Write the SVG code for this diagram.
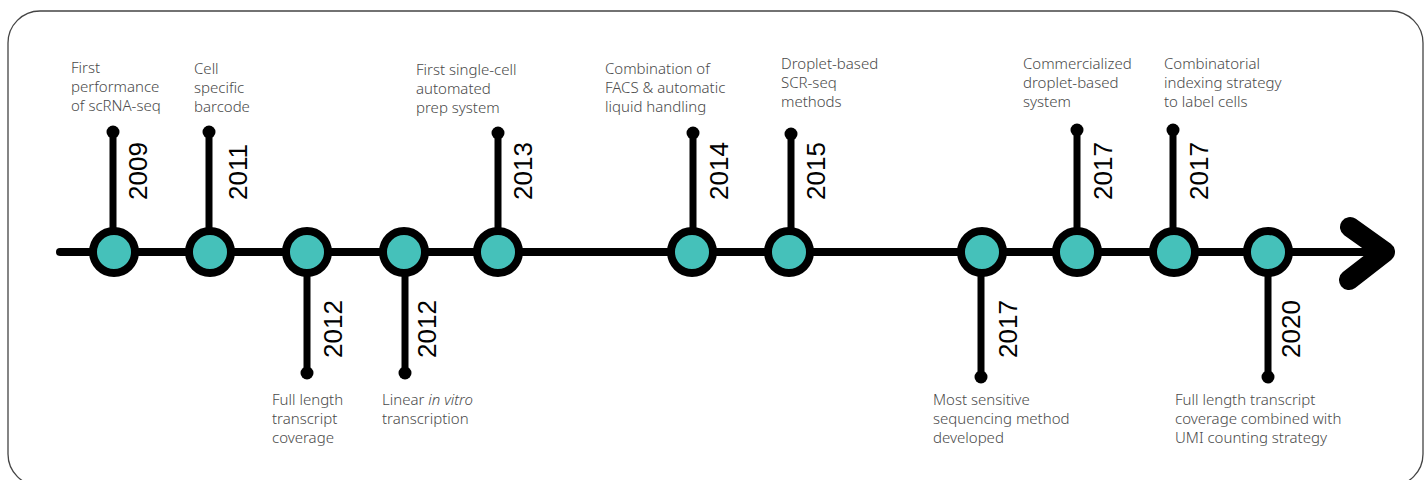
<svg xmlns="http://www.w3.org/2000/svg" width="1428" height="480" viewBox="0 0 1428 480">
<style>
.frame{fill:#fff;stroke:#444;stroke-width:1.3}
.axis{stroke:#000;stroke-width:8;stroke-linecap:round;fill:none}
.chev{stroke:#000;stroke-width:20;stroke-linecap:round;stroke-linejoin:round;fill:none}
.stem{stroke:#000;stroke-width:7}
.dot{fill:#000}
.node{fill:#45C1BA;stroke:#000;stroke-width:8}
.year{font-family:"Liberation Sans",Arial,sans-serif;font-size:26px;fill:#000}
.desc{font-family:"Noto Sans","Open Sans",sans-serif;font-size:15px;font-weight:300;fill:#4a4a4a}
</style>
<rect class="frame" x="8" y="11" width="1415" height="475" rx="32" ry="32"/>
<g id="connectors">
<line class="axis" x1="60" y1="252" x2="1380" y2="252"/>
<polyline class="chev" points="1350,227 1385,252 1349,280"/>
<line class="stem" x1="113" y1="132" x2="113" y2="252"/><circle class="dot" cx="113" cy="132" r="6.5"/>
<line class="stem" x1="209" y1="132" x2="209" y2="252"/><circle class="dot" cx="209" cy="132" r="6.5"/>
<line class="stem" x1="307" y1="252" x2="307" y2="373"/><circle class="dot" cx="307" cy="373" r="6.5"/>
<line class="stem" x1="405" y1="252" x2="405" y2="373"/><circle class="dot" cx="405" cy="373" r="6.5"/>
<line class="stem" x1="498" y1="133" x2="498" y2="252"/><circle class="dot" cx="498" cy="133" r="6.5"/>
<line class="stem" x1="693" y1="133" x2="693" y2="252"/><circle class="dot" cx="693" cy="133" r="6.5"/>
<line class="stem" x1="791" y1="134" x2="791" y2="252"/><circle class="dot" cx="791" cy="134" r="6.5"/>
<line class="stem" x1="981" y1="252" x2="981" y2="377"/><circle class="dot" cx="981" cy="377" r="6.5"/>
<line class="stem" x1="1077" y1="130" x2="1077" y2="252"/><circle class="dot" cx="1077" cy="130" r="6.5"/>
<line class="stem" x1="1173" y1="130" x2="1173" y2="252"/><circle class="dot" cx="1173" cy="130" r="6.5"/>
<line class="stem" x1="1268" y1="252" x2="1268" y2="377"/><circle class="dot" cx="1268" cy="377" r="6.5"/>
</g>
<g id="n2009">
<circle class="node" cx="114" cy="252" r="21"/>
<text class="year" transform="translate(147,200) rotate(-90)">2009</text>
<text class="desc"><tspan x="71" y="73">First</tspan><tspan x="71" y="92">performance</tspan><tspan x="71" y="111">of scRNA-seq</tspan></text>
</g>
<g id="n2011">
<circle class="node" cx="210" cy="252" r="21"/>
<text class="year" transform="translate(247,200) rotate(-90)">2011</text>
<text class="desc"><tspan x="194" y="74">Cell</tspan><tspan x="194" y="93">specific</tspan><tspan x="194" y="112">barcode</tspan></text>
</g>
<g id="n2012a">
<circle class="node" cx="307" cy="252" r="21"/>
<text class="year" transform="translate(342,358) rotate(-90)">2012</text>
<text class="desc"><tspan x="272" y="405">Full length</tspan><tspan x="272" y="424">transcript</tspan><tspan x="272" y="443">coverage</tspan></text>
</g>
<g id="n2012b">
<circle class="node" cx="404" cy="252" r="21"/>
<text class="year" transform="translate(436,358) rotate(-90)">2012</text>
<text class="desc"><tspan x="382" y="405">Linear <tspan font-style="italic">in vitro</tspan></tspan><tspan x="382" y="424">transcription</tspan></text>
</g>
<g id="n2013">
<circle class="node" cx="498" cy="252" r="21"/>
<text class="year" transform="translate(532,200) rotate(-90)">2013</text>
<text class="desc"><tspan x="416" y="75">First single-cell</tspan><tspan x="416" y="94">automated</tspan><tspan x="416" y="113">prep system</tspan></text>
</g>
<g id="n2014">
<circle class="node" cx="692" cy="252" r="21"/>
<text class="year" transform="translate(728,200) rotate(-90)">2014</text>
<text class="desc"><tspan x="605" y="74">Combination of</tspan><tspan x="605" y="93">FACS &amp; automatic</tspan><tspan x="605" y="112">liquid handling</tspan></text>
</g>
<g id="n2015">
<circle class="node" cx="789" cy="252" r="21"/>
<text class="year" transform="translate(825,200) rotate(-90)">2015</text>
<text class="desc"><tspan x="781" y="69">Droplet-based</tspan><tspan x="781" y="88">SCR-seq</tspan><tspan x="781" y="107">methods</tspan></text>
</g>
<g id="n2017a">
<circle class="node" cx="982" cy="252" r="21"/>
<text class="year" transform="translate(1017,358) rotate(-90)">2017</text>
<text class="desc"><tspan x="933" y="405">Most sensitive</tspan><tspan x="933" y="424">sequencing method</tspan><tspan x="933" y="443">developed</tspan></text>
</g>
<g id="n2017b">
<circle class="node" cx="1077" cy="252" r="21"/>
<text class="year" transform="translate(1112,200) rotate(-90)">2017</text>
<text class="desc"><tspan x="1023" y="69">Commercialized</tspan><tspan x="1023" y="88">droplet-based</tspan><tspan x="1023" y="107">system</tspan></text>
</g>
<g id="n2017c">
<circle class="node" cx="1174" cy="252" r="21"/>
<text class="year" transform="translate(1208,200) rotate(-90)">2017</text>
<text class="desc"><tspan x="1164" y="69">Combinatorial</tspan><tspan x="1164" y="88">indexing strategy</tspan><tspan x="1164" y="107">to label cells</tspan></text>
</g>
<g id="n2020">
<circle class="node" cx="1268" cy="252" r="21"/>
<text class="year" transform="translate(1300,358) rotate(-90)">2020</text>
<text class="desc"><tspan x="1175" y="405">Full length transcript</tspan><tspan x="1175" y="424">coverage combined with</tspan><tspan x="1175" y="443">UMI counting strategy</tspan></text>
</g>
</svg>
